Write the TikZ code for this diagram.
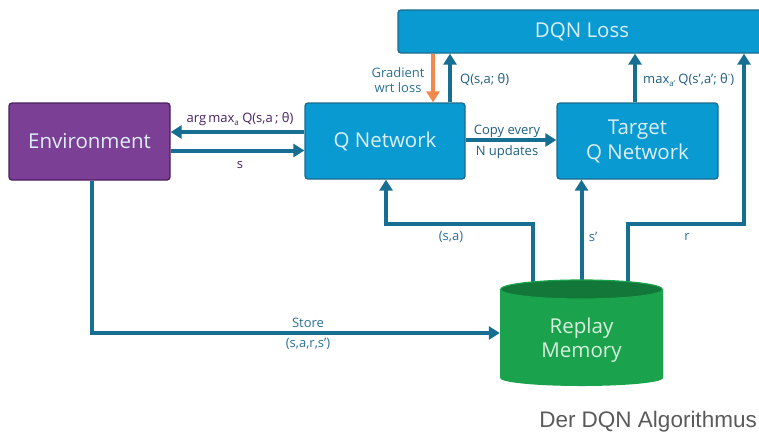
\documentclass[tikz,border=0pt]{standalone}
\usepackage{fontspec}
\setmainfont{Open Sans}
\newfontfamily\capfont{Liberation Sans}
\usetikzlibrary{arrows.meta,calc}
\pgfdeclarelayer{bg}
\pgfsetlayers{bg,main}

\definecolor{boxblue}{HTML}{0A9AD2}
\definecolor{boxedge}{HTML}{1A6B8C}
\definecolor{arrblue}{HTML}{166F93}
\definecolor{lblblue}{HTML}{2B7093}
\definecolor{lbldark}{HTML}{1E5F80}
\definecolor{envfill}{HTML}{7B3F96}
\definecolor{envedge}{HTML}{4A1F5E}
\definecolor{lblpurple}{HTML}{4A2260}
\definecolor{gradorange}{HTML}{F4874B}
\definecolor{memgreen}{HTML}{1AA24C}
\definecolor{memtop}{HTML}{13773A}
\definecolor{boxtext}{HTML}{DCEFF8}
\definecolor{memtext}{HTML}{D8F0DF}
\definecolor{capgray}{HTML}{5A5A5A}

\newcommand\lowsub[1]{\raisebox{-0.3em}{\fontsize{8}{8}\selectfont #1}}
\newcommand\highsup[1]{\raisebox{0.45em}{\fontsize{8}{8}\selectfont #1}}

\begin{document}
\begin{tikzpicture}[x=1pt,y=-1pt,
  box/.style={draw=boxedge, line width=1.3pt, rounded corners=3pt, fill=boxblue,
    text=boxtext, font=\fontsize{20.5}{25}\selectfont, align=center, inner sep=0pt},
  envbox/.style={box, fill=envfill, draw=envedge},
  conn/.style={draw=arrblue, line width=4pt},
  arr/.style={conn, -{Triangle[width=13pt,length=11pt]}},
  gradarr/.style={draw=gradorange, line width=4pt, -{Triangle[width=13pt,length=11pt]}},
  lbl/.style={font=\fontsize{13}{15}\selectfont, text=lblblue, inner sep=0pt},
  plbl/.style={lbl, text=lblpurple},
  dlbl/.style={lbl, text=lbldark},
]
\clip (0,0) rectangle (759,432);

% boxes
\node[box, minimum width=368pt, minimum height=43pt] (loss) at (582,31.5) {DQN Loss};
\node[envbox, minimum width=161pt, minimum height=77pt] (env) at (89.5,141.5) {Environment};
\node[box, minimum width=160pt, minimum height=76pt] (q) at (385,141) {Q Network};
\node[box, minimum width=161pt, minimum height=76pt] (target) at (637.5,141) {Target\\Q Network};

% replay memory cylinder
\fill[memgreen] (500,290) -- (500,378)
  arc[start angle=180, end angle=360, x radius=81.5pt, y radius=8pt] -- (663,290) -- cycle;
\filldraw[fill=memtop, draw=memgreen, line width=1.2pt] (581.5,289.5) ellipse[x radius=81pt, y radius=9.5pt];
\node[minimum width=163pt, minimum height=105pt, inner sep=0pt] (mem) at (581.5,332.5) {};
\node[font=\fontsize{20.5}{24}\selectfont, text=memtext, align=center] (memtxt) at (581.5,340) {Replay\\Memory};

% caption
\node[font=\capfont\fontsize{22.5}{24}\selectfont, text=capgray, anchor=base east, inner sep=0pt] (cap) at (757,427) {Der DQN Algorithmus};

% connectors
\begin{pgfonlayer}{bg}
\draw[arr] ([yshift=9pt]q.west) -- ([yshift=9pt]q.west -| env.east);
\draw[arr] ([yshift=-9pt]env.east) -- ([yshift=-9pt]env.east -| q.west);
\draw[arr] ([yshift=1pt]q.east) -- ([yshift=1pt]q.east -| target.west);
\draw[gradarr] ([xshift=48pt]q.north |- loss.south) -- ([xshift=48pt]q.north);
\draw[arr] ([xshift=65pt]q.north) -- ([xshift=65pt]q.north |- loss.south);
\draw[arr] ([xshift=-2.5pt]target.north) -- ([xshift=-2.5pt]target.north |- loss.south);
\coordinate (rturn) at (744,224);
\draw[arr] ([xshift=46.5pt,yshift=-8pt]mem.north) |- (rturn) -- (rturn |- loss.south);
\draw[arr] ([yshift=-8pt]mem.north) -- (mem.north |- target.south);
\coordinate (saturn) at (386,224);
\draw[arr] ([xshift=-48.5pt,yshift=-8pt]mem.north) |- (saturn) -- (saturn |- q.south);
\coordinate (storeturn) at (92,333);
\draw[arr] (env.south -| storeturn) -- (storeturn) -- (storeturn -| mem.west);
\end{pgfonlayer}

% labels
\node[plbl] (l1) at (240,119) {arg\,max\lowsub{a} Q(s,a\,; θ)};
\node[plbl] (l2) at (240,165) {s};
\node[dlbl] (l3) at (507,131) {Copy every};
\node[dlbl] (l4) at (507,152) {N updates};
\node[lbl] (l5) at (398,73) {Gradient};
\node[lbl] (l6) at (398,88) {wrt loss};
\node[dlbl, anchor=west] (l7) at (460,80) {Q(s,a; θ)};
\node[dlbl, anchor=west] (l8) at (643,80) {max\lowsub{a'} Q(s',a'; θ\highsup{-})};
\node[lbl] (l9) at (451,237) {(s,a)};
\node[lbl] (l10) at (593,237) {s'};
\node[lbl] (l11) at (687,237) {r};
\node[lbl] (l12) at (308,323) {Store};
\node[lbl] (l13) at (308,344) {(s,a,r,s')};
\end{tikzpicture}
\end{document}
